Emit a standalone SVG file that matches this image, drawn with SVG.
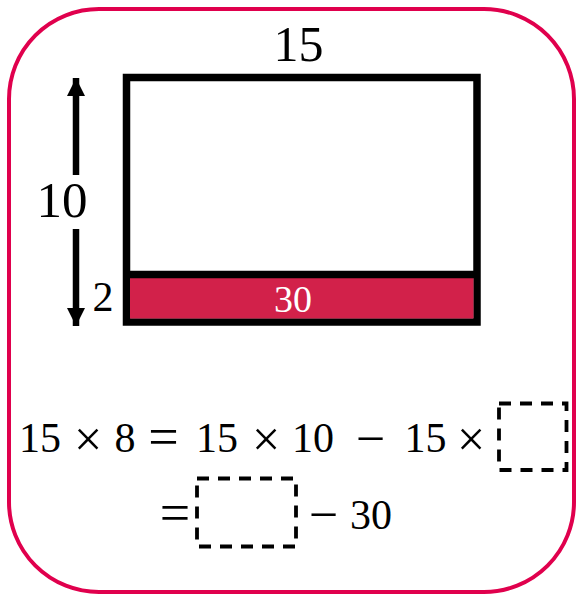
<svg xmlns="http://www.w3.org/2000/svg" width="576" height="596" viewBox="0 0 576 596">
  <style>
    .t { font-family: "Liberation Serif", "Times New Roman", serif; fill: #000; text-anchor: middle; }
    .op { font-family: "Liberation Serif", "Times New Roman", serif; fill: #000; text-anchor: middle; }
    .dash { fill: none; stroke: #000; stroke-width: 3.8; stroke-dasharray: 12 9; }
  </style>
  <defs>
    <marker id="ah" viewBox="0 0 10 10" refX="10" refY="5" markerWidth="2.8" markerHeight="2.8" markerUnits="strokeWidth" orient="auto">
      <path d="M0,0 L10,5 L0,10 Z" fill="#000"/>
    </marker>
  </defs>
  <rect width="576" height="596" fill="#fff"/>
  <g id="frame">
    <rect x="9" y="9" width="565" height="583" rx="90" ry="90" fill="none" stroke="#E0004D" stroke-width="4"/>
  </g>
  <g id="rectangle">
    <rect x="126.5" y="77.5" width="350.5" height="244.5" fill="#fff" stroke="#000" stroke-width="7.5"/>
    <rect x="130" y="278" width="343.5" height="40.5" fill="#D2214A"/>
    <line x1="126.5" y1="274.5" x2="477" y2="274.5" stroke="#000" stroke-width="7.5"/>
    <text class="t" x="293" y="312" font-size="38" style="fill:#fff">30</text>
  </g>
  <g id="labels">
    <text class="t" x="298.5" y="61" font-size="50">15</text>
    <text class="t" x="62" y="216.5" font-size="51">10</text>
    <text class="t" x="103" y="311" font-size="42">2</text>
  </g>
  <g id="connectors">
    <line x1="76" y1="175" x2="76" y2="78" stroke="#000" stroke-width="6.5" marker-end="url(#ah)"/>
    <line x1="76" y1="229" x2="76" y2="326" stroke="#000" stroke-width="6.5" marker-end="url(#ah)"/>
  </g>
  <g id="equation1">
    <text class="t" x="40" y="452" font-size="42">15</text>
    <text class="op" x="88" y="456" font-size="50">×</text>
    <text class="t" x="125" y="452" font-size="42">8</text>
    <text class="op" x="163.5" y="455" font-size="54">=</text>
    <text class="t" x="217" y="452" font-size="42">15</text>
    <text class="op" x="266" y="456" font-size="50">×</text>
    <text class="t" x="313" y="452" font-size="42">10</text>
    <text class="op" x="370.5" y="456" font-size="52">−</text>
    <text class="t" x="425.5" y="452" font-size="42">15</text>
    <text class="op" x="471" y="456" font-size="50">×</text>
    <rect class="dash" x="499" y="403.5" width="67.5" height="66.5"/>
  </g>
  <g id="equation2">
    <text class="op" x="175" y="531" font-size="54">=</text>
    <rect class="dash" x="197" y="478.5" width="99" height="68"/>
    <text class="op" x="323.3" y="532" font-size="52">−</text>
    <text class="t" x="371" y="529" font-size="42">30</text>
  </g>
</svg>
